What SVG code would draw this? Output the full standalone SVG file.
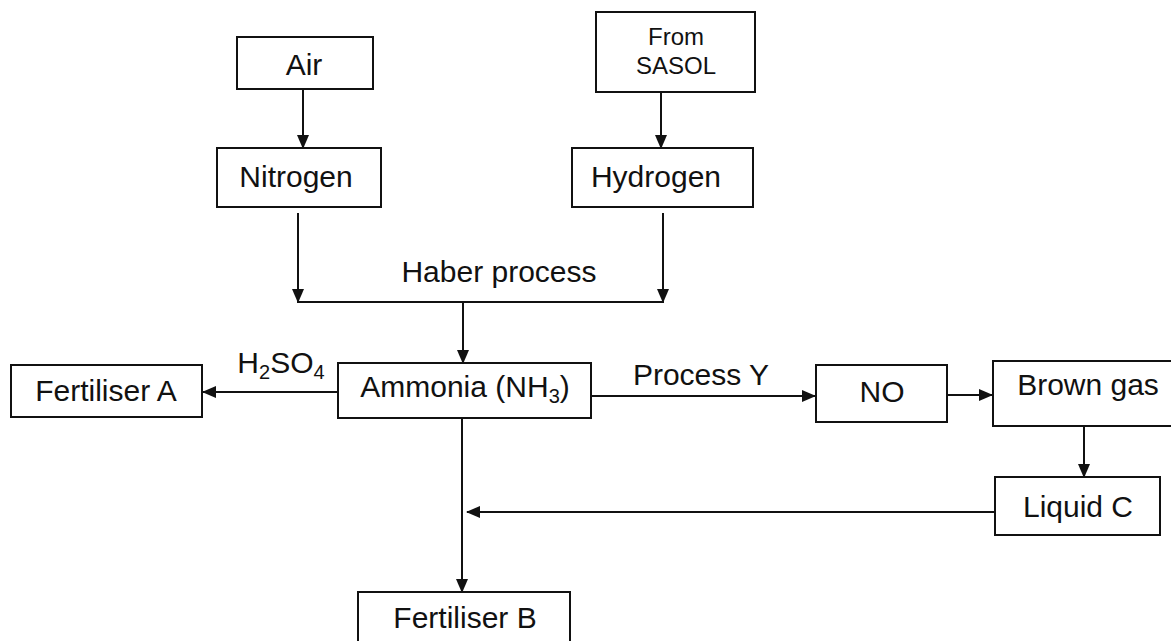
<svg xmlns="http://www.w3.org/2000/svg" width="1171" height="641" viewBox="0 0 1171 641">
<style>
.box{fill:#fff;stroke:#111;stroke-width:2}
.t{font-family:"Liberation Sans",Arial,sans-serif;font-size:30px;fill:#111;text-anchor:middle}
.s{font-family:"Liberation Sans",Arial,sans-serif;font-size:24px;fill:#111;text-anchor:middle}
.c{fill:none;stroke:#111;stroke-width:2}
</style>
<defs>
<marker id="ah" markerUnits="userSpaceOnUse" markerWidth="14" markerHeight="12" refX="13" refY="6" orient="auto">
<path d="M0,0 L14,6 L0,12 Z" fill="#111"/>
</marker>
</defs>
<rect width="1171" height="641" fill="#fff"/>
<g id="connectors">
<line class="c" x1="303" y1="89" x2="303" y2="148" marker-end="url(#ah)"/>
<line class="c" x1="661" y1="92" x2="661" y2="148" marker-end="url(#ah)"/>
<line class="c" x1="298" y1="213" x2="298" y2="302" marker-end="url(#ah)"/>
<line class="c" x1="663" y1="213" x2="663" y2="302" marker-end="url(#ah)"/>
<line class="c" x1="297" y1="302" x2="664" y2="302"/>
<line class="c" x1="463" y1="302" x2="463" y2="363" marker-end="url(#ah)"/>
<line class="c" x1="338" y1="392" x2="203" y2="392" marker-end="url(#ah)"/>
<line class="c" x1="591" y1="396" x2="815" y2="396" marker-end="url(#ah)"/>
<line class="c" x1="947" y1="395" x2="992" y2="395" marker-end="url(#ah)"/>
<line class="c" x1="1084" y1="426" x2="1084" y2="477" marker-end="url(#ah)"/>
<line class="c" x1="995" y1="512" x2="467" y2="512" marker-end="url(#ah)"/>
<line class="c" x1="462" y1="418" x2="462" y2="592" marker-end="url(#ah)"/>
<text class="t" x="499" y="282">Haber process</text>
<text class="t" x="281" y="373">H<tspan font-size="20" dy="6">2</tspan><tspan dy="-6">SO</tspan><tspan font-size="20" dy="6">4</tspan></text>
<text class="t" x="701" y="385">Process Y</text>
</g>
<g id="air"><rect class="box" x="237" y="37" width="136" height="52"/><text class="t" x="304" y="75">Air</text></g>
<g id="sasol"><rect class="box" x="596" y="12" width="159" height="80"/><text class="s" x="676" y="45">From</text><text class="s" x="676" y="74">SASOL</text></g>
<g id="nitrogen"><rect class="box" x="217" y="148" width="164" height="59"/><text class="t" x="296" y="187">Nitrogen</text></g>
<g id="hydrogen"><rect class="box" x="572" y="148" width="181" height="59"/><text class="t" x="656" y="187">Hydrogen</text></g>
<g id="ammonia"><rect class="box" x="338" y="363" width="253" height="55"/><text class="t" x="465" y="397">Ammonia (NH<tspan font-size="20" dy="6">3</tspan><tspan dy="-6">)</tspan></text></g>
<g id="fertiliserA"><rect class="box" x="11" y="365" width="191" height="52"/><text class="t" x="106" y="401">Fertiliser A</text></g>
<g id="no"><rect class="box" x="816" y="365" width="131" height="57"/><text class="t" x="882" y="402">NO</text></g>
<g id="browngas"><rect class="box" x="993" y="361" width="190" height="65"/><text class="t" x="1088" y="395">Brown gas</text></g>
<g id="liquidC"><rect class="box" x="995" y="477" width="165" height="58"/><text class="t" x="1078" y="517">Liquid C</text></g>
<g id="fertiliserB"><rect class="box" x="358" y="592" width="212" height="70"/><text class="t" x="465" y="628">Fertiliser B</text></g>
</svg>
